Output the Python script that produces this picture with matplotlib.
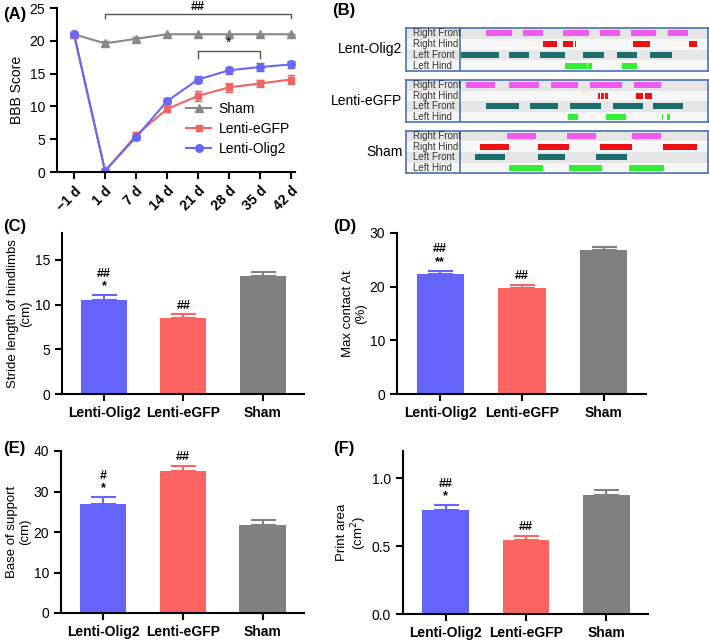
import numpy as np
import matplotlib
matplotlib.use("Agg")
from matplotlib import pyplot as plt

plt.rcParams['font.family'] = ['Liberation Sans', 'DejaVu Sans']

# ---- data ----
days = ['\u22121 d', '1 d', '7 d', '14 d', '21 d', '28 d', '35 d', '42 d']
sham = [21, 19.6, 20.3, 21, 21, 21, 21, 21]
sham_err = [0.2, 0.4, 0.3, 0.1, 0.1, 0.1, 0.1, 0.1]
egfp = [21, 0.1, 5.6, 9.6, 11.6, 12.9, 13.5, 14.1]
egfp_err = [0.2, 0.2, 0.5, 0.5, 0.8, 0.7, 0.6, 0.7]
olig2 = [21, 0.2, 5.3, 10.8, 14.1, 15.5, 16.0, 16.4]
olig2_err = [0.2, 0.2, 0.4, 0.5, 0.5, 0.5, 0.6, 0.5]

groups = ['Lenti-Olig2', 'Lenti-eGFP', 'Sham']
stride = [10.55, 8.5, 13.2]
stride_err = [0.5, 0.4, 0.45]
contact = [22.4, 19.7, 26.8]
contact_err = [0.6, 0.7, 0.6]
support = [26.9, 35.1, 21.7]
support_err = [1.7, 1.3, 1.3]
printarea = [0.767, 0.546, 0.873]
printarea_err = [0.035, 0.03, 0.04]

stride_sig = ['##\n*', '##', '']
contact_sig = ['##\n**', '##', '']
support_sig = ['#\n*', '##', '']
print_sig = ['##\n*', '##', '']

# gait footfall segments (start, end), track time units
paw_rows = ['Right Front', 'Right Hind', 'Left Front', 'Left Hind']
gait_groups = ['Lent-Olig2', 'Lenti-eGFP', 'Sham']
olig2_steps = [
    [(77, 157), (188, 248), (309, 387), (420, 480), (514, 588), (626, 684)],
    [(248, 293), (311, 341), (345, 349), (520, 572), (688, 713)],
    [(2, 117), (148, 208), (239, 316), (371, 434), (472, 532), (572, 637)],
    [(315, 382), (386, 396), (487, 532)],
]
egfp_steps = [
    [(17, 104), (146, 238), (274, 354), (392, 486), (524, 604)],
    [(416, 421), (423, 433), (436, 446), (530, 550), (555, 578)],
    [(77, 178), (209, 296), (332, 423), (461, 551), (581, 669)],
    [(326, 354), (438, 499), (607, 611), (623, 631)],
]
sham_steps = [
    [(140, 228), (321, 409), (516, 603)],
    [(60, 147), (234, 328), (421, 516), (611, 713)],
    [(46, 134), (234, 315), (408, 503)],
    [(147, 248), (328, 428), (508, 612)],
]

c_olig2 = '#6464fa'
c_egfp = '#fc6464'
c_sham = '#808080'
paw_colors = ['#f05af0', '#ee1111', '#1c6e6e', '#33ee33']

fig = plt.figure(figsize=(7.09, 6.4), dpi=100)
W, H = 709.0, 640.0


def place(l, t, r, b):
    return fig.add_axes([l / W, 1 - b / H, (r - l) / W, (b - t) / H])


def style(ax):
    for s in ['top', 'right']:
        ax.spines[s].set_visible(False)
    for s in ['left', 'bottom']:
        ax.spines[s].set_linewidth(1.5)
    ax.tick_params(width=1.5, length=5, labelsize=10)


# ---- (A) ----
ax = place(57, 8, 295, 172)
x = np.arange(len(days))
h_sham = ax.errorbar(x, sham, yerr=sham_err, color='#888888', marker='^', ms=5.5, lw=1.5,
                     capsize=3)
h_egfp = ax.errorbar(x, egfp, yerr=egfp_err, color='#f06464', marker='s', ms=5, lw=1.5,
                     capsize=3)
h_olig = ax.errorbar(x, olig2, yerr=olig2_err, color='#6868f4', marker='o', ms=5.5, lw=1.5,
                     capsize=3)
ax.set_xlim(-0.55, 7.13)
ax.set_ylim(0, 25)
ax.set_yticks([0, 5, 10, 15, 20, 25])
ax.set_xticks(x)
ax.set_xticklabels(days, rotation=45, ha='right', rotation_mode='anchor',
                   fontweight='bold', fontsize=10.5)
ax.set_ylabel('BBB Score', fontsize=10)
style(ax)
# brackets
ax.plot([1, 1, 7, 7], [23.4, 24.1, 24.1, 23.4], color='#555555', lw=1, clip_on=False)
ax.text(4, 24.3, '##', ha='center', va='bottom', fontsize=9, fontweight='bold')
ax.plot([4, 4, 6, 6], [17.4, 18.4, 18.4, 17.4], color='#555555', lw=1)
ax.text(5, 18.7, '*', ha='center', va='bottom', fontsize=10)
ax.legend([h_sham[0], h_egfp[0], h_olig[0]], ['Sham', 'Lenti-eGFP', 'Lenti-Olig2'],
          loc='lower right', bbox_to_anchor=(1.03, 0.02), frameon=False, fontsize=10,
          handlelength=1.8, labelspacing=0.45, handletextpad=0.5)
fig.text(3 / W, 1 - 14 / H, '(A)', fontsize=12, fontweight='bold', va='center')

# ---- (B) ----
fig.text(332 / W, 1 - 11 / H, '(B)', fontsize=12, fontweight='bold', va='center')
boxes = [(28, 71), (80, 122), (131, 173)]
for (top, bot), name, steps in zip(boxes, gait_groups,
                                   [olig2_steps, egfp_steps, sham_steps]):
    bx = place(406, top, 708, bot)
    bx.set_xlim(-162, 745)
    bx.set_ylim(0, 4)
    for i, row in enumerate(paw_rows):
        yb = 3 - i
        bx.axhspan(yb, yb + 1, color='#e6e6e6' if i % 2 == 0 else '#f7f7f7', lw=0)
        bx.text(-142, yb + 0.5, row, fontsize=7, color='#333333', va='center')
        segs = [(s, e - s) for s, e in steps[i]]
        bx.broken_barh(segs, (yb + 0.22, 0.56), facecolors=paw_colors[i])
    bx.axvline(0, color='#4a72b0', lw=1.2)
    for s in bx.spines.values():
        s.set_color('#4a72b0')
        s.set_linewidth(1.2)
    bx.set_xticks([])
    bx.set_yticks([])
    bx.text(-0.012, 0.5, name, transform=bx.transAxes, ha='right', va='center',
            fontsize=10)


# ---- bar panels ----
def bar_panel(l, t, r, b, vals, errs, sig, ylim, yticks, ylabel, letter, lx, ly):
    ax = place(l, t, r, b)
    xs = np.arange(len(groups))
    cols = [c_olig2, c_egfp, c_sham]
    ax.bar(xs, vals, width=0.58, color=cols)
    for xi, v, e, c, s in zip(xs, vals, errs, cols, sig):
        ax.errorbar(xi, v, yerr=[[0], [e]], color=c, capsize=9, lw=1.5, capthick=1.5)
        if s:
            ax.annotate(s, (xi, v + e), xytext=(0, 2), textcoords='offset points',
                        ha='center', va='bottom', fontsize=9, fontweight='bold',
                        linespacing=1.05)
    ax.set_xlim(-0.53, 2.52)
    ax.set_ylim(*ylim)
    ax.set_yticks(yticks)
    ax.set_xticks(xs)
    ax.set_xticklabels(groups, fontweight='bold', fontsize=10)
    ax.set_ylabel(ylabel, fontsize=9.5, linespacing=1.1, labelpad=2)
    style(ax)
    fig.text(lx / W, 1 - ly / H, letter, fontsize=12, fontweight='bold', va='center')
    return ax


bar_panel(62, 233, 304, 394, stride, stride_err, stride_sig, (0, 18), [0, 5, 10, 15],
          'Stride length of hindlimbs\n(cm)', '(C)', 3, 226)
bar_panel(397, 233, 646, 394, contact, contact_err, contact_sig, (0, 30), [0, 10, 20, 30],
          'Max contact At\n(%)', '(D)', 333, 226)
bar_panel(61, 451, 304, 613, support, support_err, support_sig, (0, 40),
          [0, 10, 20, 30, 40], 'Base of support\n(cm)', '(E)', 3, 448)
bar_panel(403, 451, 648, 614, printarea, printarea_err, print_sig, (0, 1.2),
          [0.0, 0.5, 1.0], 'Print area\n(cm$^2$)', '(F)', 333, 448)
fig.axes[-1].set_yticklabels(['0.0', '0.5', '1.0'])

fig.savefig('out.png', dpi=100)
